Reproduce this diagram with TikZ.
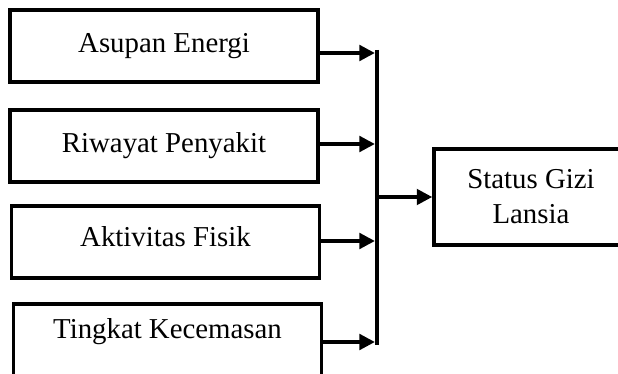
\documentclass[tikz,border=0pt]{standalone}
\usepackage{fontspec}
\setmainfont{Liberation Serif}
\usetikzlibrary{arrows.meta}

\begin{document}
\begin{tikzpicture}[x=0.025cm, y=-0.025cm]
        \tikzstyle{varbox} = [draw, line width=2.5pt, rectangle, minimum width=7.7cm, minimum height=1.8cm, align=center, inner sep=0pt, font=\fontsize{20.5}{25}\selectfont]
        \tikzstyle{arr} = [-{Triangle[length=11pt, width=11pt]}, line width=2.5pt]
        \clip (0,0) rectangle (618,374);
        \useasboundingbox (0,0) rectangle (618,374);
        \node[varbox] (asupan) at (164, 46) {Asupan Energi};
        \node[varbox] (riwayat) at (164, 146) {Riwayat Penyakit};
        \node[varbox, text depth=8pt] (aktivitas) at (165.5, 242) {Aktivitas Fisik};
        \node[varbox, text height=0pt, text depth=0pt] (cemas) at (167.5, 340) {};
        \node[font=\fontsize{20.5}{25}\selectfont] (cemaslbl) at (167.5, 332) {Tingkat Kecemasan};
        \node[varbox, minimum width=4.85cm, minimum height=2.4cm] (status) at (531, 197) {Status Gizi\\Lansia};
        % bus junctions
        \coordinate (j1) at (377, 53);
        \coordinate (j2) at (377, 144);
        \coordinate (j3) at (377, 241);
        \coordinate (j4) at (377, 342);
        \coordinate (jm) at (377, 197);
        \draw[line width=2.5pt] (377, 50) coordinate (top) -- (377, 345) coordinate (bot);
        \draw[arr] (asupan.east |- j1) -- ([xshift=-1.5pt]j1);
        \draw[arr] (riwayat.east |- j2) -- ([xshift=-1.5pt]j2);
        \draw[arr] (aktivitas.east |- j3) -- ([xshift=-1.5pt]j3);
        \draw[arr] (cemas.east |- j4) -- ([xshift=-1.5pt]j4);
        \draw[arr] (jm) -- (status.west);
      \end{tikzpicture}
\end{document}
